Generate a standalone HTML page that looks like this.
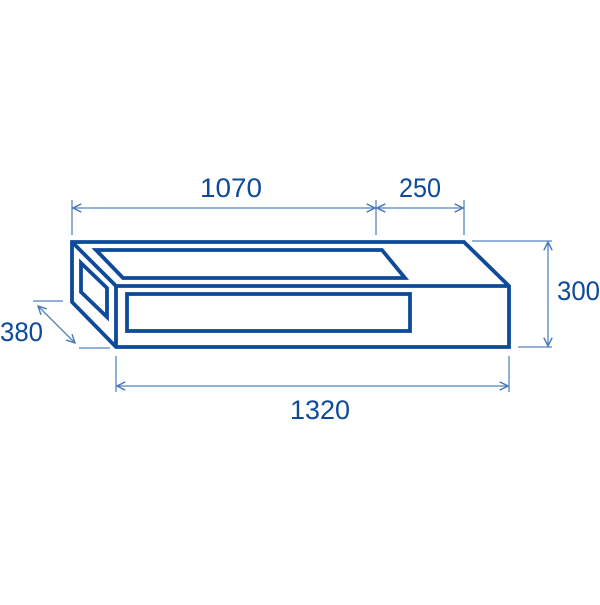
<!DOCTYPE html>
<html><head><style>body{margin:0;background:#fff}</style></head><body>
<svg width="600" height="600" xmlns="http://www.w3.org/2000/svg">
<defs>
<marker id="a" viewBox="0 0 10 10" refX="9" refY="5" markerWidth="8" markerHeight="8" orient="auto-start-reverse"><path d="M1,1 L9,5 L1,9" fill="none" stroke="#4a7ab8" stroke-width="1.4"/></marker>
</defs>
<g stroke="#5583bf" stroke-width="1.3" fill="none">
<line x1="72" y1="200" x2="72" y2="235"/>
<line x1="376" y1="200" x2="376" y2="235"/>
<line x1="464" y1="200" x2="464" y2="235"/>
<line x1="73" y1="208" x2="375" y2="208" marker-start="url(#a)" marker-end="url(#a)"/>
<line x1="377" y1="208" x2="463" y2="208" marker-start="url(#a)" marker-end="url(#a)"/>
<line x1="472" y1="241" x2="552" y2="241"/>
<line x1="518" y1="347" x2="552" y2="347"/>
<line x1="548" y1="242" x2="548" y2="346" marker-start="url(#a)" marker-end="url(#a)"/>
<line x1="116" y1="356" x2="116" y2="392"/>
<line x1="509" y1="356" x2="509" y2="392"/>
<line x1="117" y1="386" x2="508" y2="386" marker-start="url(#a)" marker-end="url(#a)"/>
<line x1="33" y1="301" x2="63" y2="301"/>
<line x1="79" y1="348" x2="110" y2="348"/>
<line x1="38" y1="306" x2="75" y2="343" marker-start="url(#a)" marker-end="url(#a)"/>
</g>
<g stroke="#0d4a9a" stroke-width="3.8" fill="none" stroke-linejoin="miter">
<polygon points="72,242 464,242 509,286 509,347 116,347 72,302"/>
<polyline points="72,242 116,286 509,286"/>
<line x1="116" y1="286" x2="116" y2="347"/>
<polygon points="81,263 107,288 107,317 81,292"/>
<polygon points="96,250 382,250 405,278 123,278"/>
<rect x="127" y="294" width="283" height="37"/>
</g>
<g fill="#0d4a9a" font-family="Liberation Sans, sans-serif" font-size="27" lengthAdjust="spacingAndGlyphs">
<text x="200" y="197" textLength="62" lengthAdjust="spacingAndGlyphs">1070</text>
<text x="399" y="197" textLength="42" lengthAdjust="spacingAndGlyphs">250</text>
<text x="557" y="300" textLength="43" lengthAdjust="spacingAndGlyphs">300</text>
<text x="0" y="341" textLength="43" lengthAdjust="spacingAndGlyphs">380</text>
<text x="290" y="419" textLength="60" lengthAdjust="spacingAndGlyphs">1320</text>
</g>
</svg>
</body></html>
